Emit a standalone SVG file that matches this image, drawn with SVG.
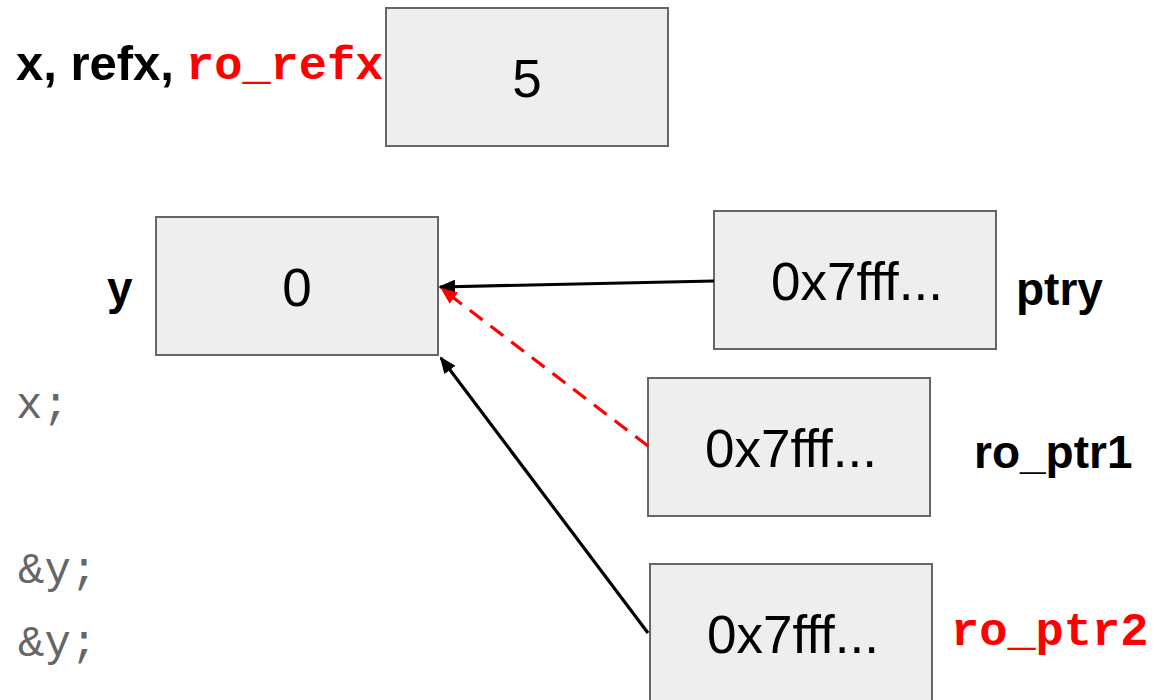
<svg xmlns="http://www.w3.org/2000/svg" width="1168" height="700" viewBox="0 0 1168 700">
<style>
.box{fill:#eeeeee;stroke:#666666;stroke-width:2}
.val{font-family:"Liberation Sans",Arial,sans-serif;font-size:53px;fill:#000;text-anchor:middle}
.lbl{font-family:"Liberation Sans",Arial,sans-serif;font-size:46px;font-weight:bold;fill:#000}
.mono{font-family:"Liberation Mono","Courier New",monospace;font-size:47px;font-weight:bold;fill:#ff0000}
.code{font-family:"Liberation Mono","Courier New",monospace;font-size:44px;fill:#666666}
.conn{fill:none;stroke-width:3.2}
</style>
<defs>
<marker id="ahB" markerWidth="17" markerHeight="14" refX="15" refY="7" orient="auto" markerUnits="userSpaceOnUse">
<path d="M0,0 L17,7 L0,14 Z" fill="#000"/>
</marker>
<marker id="ahR" markerWidth="17" markerHeight="14" refX="15" refY="7" orient="auto" markerUnits="userSpaceOnUse">
<path d="M0,0 L17,7 L0,14 Z" fill="#ff0000"/>
</marker>
</defs>
<g id="x">
<rect class="box" x="386" y="8" width="282" height="138"/>
<text class="val" x="527" y="97">5</text>
<text class="lbl" x="16" y="80" style="font-size:49px">x, refx,</text>
<text class="mono" x="186" y="79">ro_refx</text>
</g>
<g id="y">
<rect class="box" x="156" y="217" width="282" height="138"/>
<text class="val" x="297" y="306">0</text>
<text class="lbl" x="107" y="304">y</text>
</g>
<g id="ptry">
<rect class="box" x="714" y="211" width="282" height="138"/>
<text class="val" x="857" y="300">0x7fff...</text>
<text class="lbl" x="1016" y="305">ptry</text>
</g>
<g id="ro_ptr1">
<rect class="box" x="648" y="378" width="282" height="138"/>
<text class="val" x="791" y="467">0x7fff...</text>
<text class="lbl" x="974" y="468">ro_ptr1</text>
</g>
<g id="ro_ptr2">
<rect class="box" x="650" y="564" width="282" height="150"/>
<text class="val" x="793" y="653">0x7fff...</text>
<text class="mono" x="951" y="645">ro_ptr2</text>
</g>
<g id="code">
<text class="code" x="16" y="418">x;</text>
<text class="code" x="18" y="583">&amp;y;</text>
<text class="code" x="18" y="656">&amp;y;</text>
</g>
<g id="connectors">
<line class="conn" x1="714" y1="281" x2="440" y2="287" stroke="#000" marker-end="url(#ahB)"/>
<line class="conn" x1="648" y1="446" x2="442" y2="289" stroke="#ff0000" stroke-dasharray="16,10" marker-end="url(#ahR)"/>
<line class="conn" x1="648" y1="633" x2="441" y2="358" stroke="#000" marker-end="url(#ahB)"/>
</g>
</svg>
